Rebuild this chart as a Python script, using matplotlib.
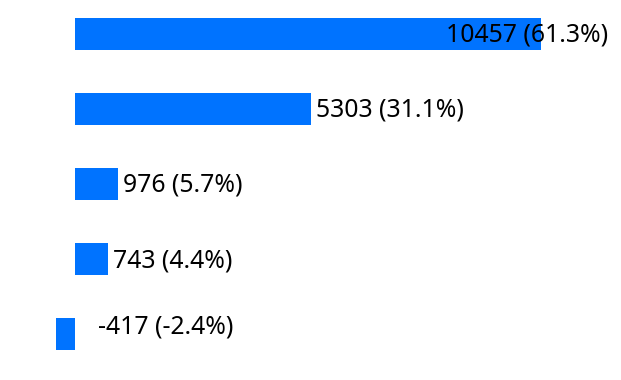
import matplotlib.pyplot as plt

values = [10457, 5303, 976, 743, -417]
shares = [61.3, 31.1, 5.7, 4.4, -2.4]
labels = [f'{v} ({s}%)' for v, s in zip(values, shares)]

bar_color = '#0073ff'

plt.rcParams['font.family'] = ['Noto Sans', 'DejaVu Sans']

fig = plt.figure(figsize=(6.21, 3.8), dpi=100)
ax = fig.add_axes([0, 0, 1, 1])

pos = list(range(len(values)))
ax.barh(pos, values, height=0.43, color=bar_color)

ax.set_xlim(-1683, 12253)
ax.set_ylim(4.613, -0.453)
ax.axis('off')

x_right = 11961
pad = 110
for i, (v, lab) in enumerate(zip(values, labels)):
    x = abs(v) + pad
    if x > 9000:
        ax.text(x_right, i + 0.02, lab, ha='right', va='center', fontsize=17.8, color='black')
    else:
        dy = 0.1 if v < 0 else -0.02
        ax.text(x, i - dy, lab, ha='left', va='center', fontsize=17.8, color='black')

fig.savefig('out.png', dpi=100)
